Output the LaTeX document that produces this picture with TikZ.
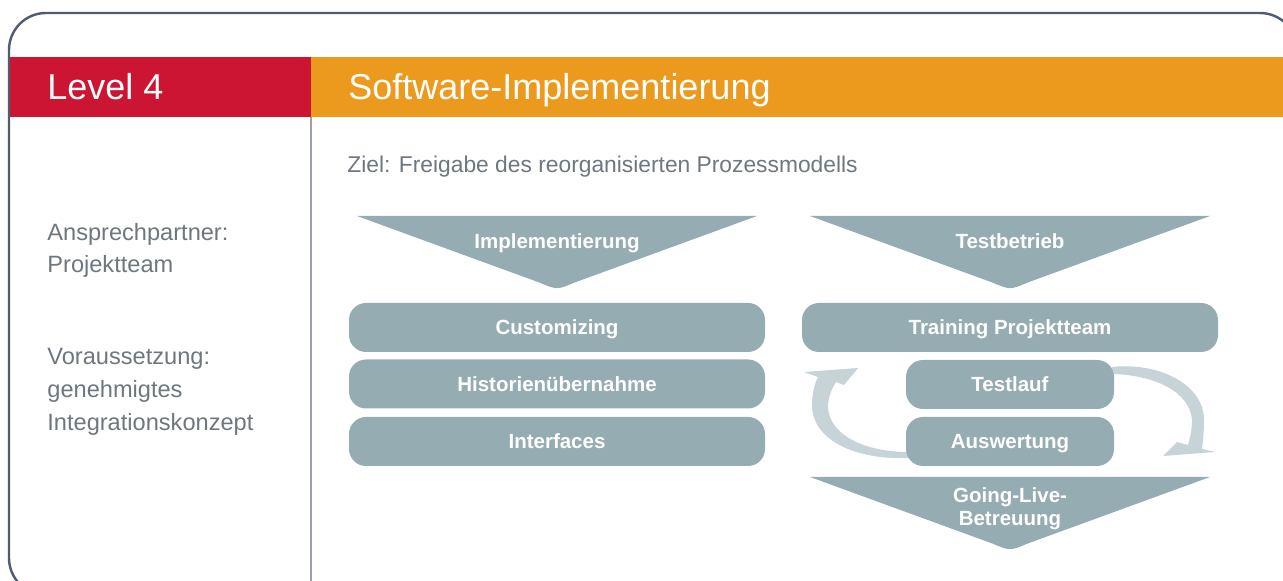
\documentclass[tikz,border=0pt]{standalone}
\usepackage{fontspec}
\setmainfont{Liberation Sans}
\definecolor{lvred}{HTML}{CC1433}
\definecolor{lvorange}{HTML}{EC9A1D}
\definecolor{boxgray}{HTML}{95ACB3}
\definecolor{arrgray}{HTML}{C6D3D7}
\definecolor{txtgray}{HTML}{6E7681}
\definecolor{framecol}{HTML}{4F5B6E}
\definecolor{divline}{HTML}{9AA1AB}
\begin{document}
\begin{tikzpicture}[x=0.5pt,y=-0.5pt,
  lbl/.style={font=\fontsize{10.25pt}{11.5pt}\selectfont\bfseries, text=white, text height=7.3pt, text depth=0pt, inner sep=0pt, align=center},
  boxnode/.style={lbl, fill=boxgray, rounded corners=8.5pt, minimum height=24.5pt},
  widebox/.style={boxnode, minimum width=208pt},
  narrowbox/.style={boxnode, minimum width=104pt},
  headtxt/.style={font=\fontsize{18pt}{21pt}\selectfont, text=white, inner sep=0pt, anchor=base west},
  sidetxt/.style={font=\fontsize{11.8pt}{14pt}\selectfont, text=txtgray, inner sep=0pt, anchor=base west},
  tri/.style={fill=boxgray},
  cyc/.style={fill=arrgray}]
\useasboundingbox (0,0) rectangle (1283,581);
\clip (0,0) rectangle (1283,581);
% header bands
\fill[lvred] (9,57) rectangle (311,117);
\fill[lvorange] (311,57) rectangle (1310,117);
\draw[divline, line width=0.6pt] (311,117) -- (311,600);
\draw[framecol, line width=1.2pt, rounded corners=18.5pt] (9,13) rectangle (1297,595);
\node[headtxt] (lvl) at (47,100) {Level 4};
\node[headtxt] (title) at (348,100) {Software-Implementierung};
% side texts
\node[sidetxt] (ans1) at (47,241) {Ansprechpartner:};
\node[sidetxt] (ans2) at (47,273) {Projektteam};
\node[sidetxt] (vor1) at (47,365) {Voraussetzung:};
\node[sidetxt] (vor2) at (47,398) {genehmigtes};
\node[sidetxt] (vor3) at (47,431) {Integrationskonzept};
\node[sidetxt, font=\fontsize{11.4pt}{14pt}\selectfont] (ziel) at (347,173) {Ziel: Freigabe des reorganisierten Prozessmodells};
% triangles
\fill[tri] (357,216) -- (757,216) -- (575,282.4) .. controls (557,290) .. (539,282.4) -- cycle;
\node[lbl] (impl) at (557,241) {Implementierung};
\fill[tri] (810,216) -- (1210,216) -- (1028,282.4) .. controls (1010,290) .. (992,282.4) -- cycle;
\node[lbl] (test) at (1010,241) {Testbetrieb};
\fill[tri] (810,477) -- (1210,477) -- (1028,543.4) .. controls (1010,551) .. (992,543.4) -- cycle;
\node[lbl] (golive) at (1010,518) {Going-Live-\\Betreuung};
% cycle arrows
\fill[cyc] (908,458) .. controls (855,460) and (812,440) .. (812,405)
  .. controls (812,393) and (815,383) .. (818,377) -- (804,372) -- (858,368) -- (844,385) -- (836,382)
  .. controls (831,390) and (828,398) .. (828,407)
  .. controls (829,435) and (865,452) .. (908,452) -- cycle;
\fill[cyc] (1112,367) .. controls (1160,362) and (1204,385) .. (1204,420)
  .. controls (1204,432) and (1203,440) .. (1202,449) -- (1215,452) -- (1163,456) -- (1177,442) -- (1188,445)
  .. controls (1190,437) and (1192,430) .. (1192,420)
  .. controls (1190,392) and (1155,375) .. (1112,374) -- cycle;
% boxes
\node[widebox] (cust) at (557,327.5) {Customizing};
\node[widebox] (hist) at (557,384) {Historienübernahme};
\node[widebox] (intf) at (557,441.5) {Interfaces};
\node[widebox] (train) at (1010,327.5) {Training Projektteam};
\node[narrowbox] (lauf) at (1010,384.5) {Testlauf};
\node[narrowbox] (ausw) at (1010,441.5) {Auswertung};
\end{tikzpicture}
\end{document}
